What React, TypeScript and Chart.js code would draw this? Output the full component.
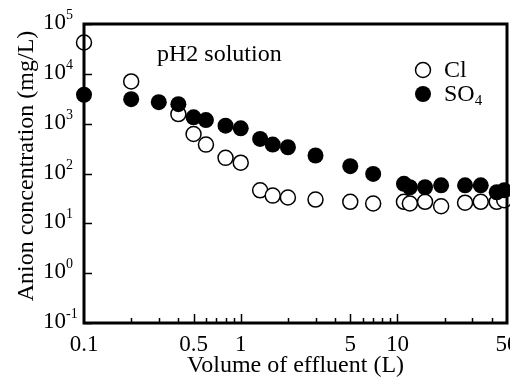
import React, { useEffect, useRef } from 'react';
import { Chart, registerables } from 'chart.js';

Chart.register(...registerables);

// Volume of effluent (L) and anion concentrations (mg/L)
const clVolume = [0.1, 0.2, 0.4, 0.5, 0.6, 0.8, 1.0, 1.33, 1.6, 2.0, 3.0, 5.0, 7.0, 11, 12, 15, 19, 27, 34, 43, 48];
const clConc = [42600, 7050, 1560, 620, 380, 206, 165, 46, 36, 33, 30, 27, 25, 27, 25, 27, 22, 26, 27, 27, 29];
const so4Volume = [0.1, 0.2, 0.3, 0.4, 0.5, 0.6, 0.8, 1.0, 1.33, 1.6, 2.0, 3.0, 5.0, 7.0, 11, 12, 15, 19, 27, 34, 43, 48];
const so4Conc = [3800, 3100, 2700, 2460, 1340, 1180, 910, 805, 495, 380, 336, 230, 140, 98, 62, 53, 53, 58, 58, 58, 42, 46];

const xTickValues = [0.1, 0.5, 1, 5, 10, 50];
const xMajorMarks = [0.5, 1, 5, 10];
const xMinorMarks = [0.2, 0.3, 0.4, 0.6, 0.7, 0.8, 0.9, 2, 3, 4, 6, 7, 8, 9, 20, 30, 40];
const yExponents = [-1, 0, 1, 2, 3, 4, 5];

const xTitle = 'Volume of effluent (L)';
const yTitle = 'Anion concentration (mg/L)';
const note = 'pH2 solution';

const SERIF = "'Liberation Serif', 'Times New Roman', serif";

const framePlugin = {
  id: 'frameAndText',
  afterDraw(chart: any) {
    const { ctx, chartArea } = chart;
    const { left, right, top, bottom } = chartArea;
    const xs = chart.scales.x;
    const ys = chart.scales.y;
    ctx.save();
    ctx.strokeStyle = '#000';
    ctx.fillStyle = '#000';
    // frame
    ctx.lineWidth = 3;
    ctx.strokeRect(left, top, right - left, bottom - top);
    // x ticks (inward)
    ctx.lineWidth = 1.5;
    ctx.beginPath();
    xMajorMarks.forEach((v) => {
      const px = Math.round(xs.getPixelForValue(v)) + 0.5;
      ctx.moveTo(px, bottom);
      ctx.lineTo(px, bottom - 9);
    });
    xMinorMarks.forEach((v) => {
      const px = Math.round(xs.getPixelForValue(v)) + 0.5;
      ctx.moveTo(px, bottom);
      ctx.lineTo(px, bottom - 5);
    });
    // y ticks
    yExponents.forEach((e) => {
      const py = Math.round(ys.getPixelForValue(Math.pow(10, e))) + 0.5;
      ctx.moveTo(left, py);
      ctx.lineTo(left + 8, py);
    });
    ctx.stroke();

    // y tick labels 10^n
    ctx.textBaseline = 'alphabetic';
    ctx.textAlign = 'left';
    yExponents.forEach((e) => {
      const py = ys.getPixelForValue(Math.pow(10, e));
      ctx.font = `23px ${SERIF}`;
      const base = '10';
      ctx.fillText(base, 35, py + 5);
      const w = ctx.measureText(base).width;
      ctx.font = `14px ${SERIF}`;
      ctx.fillText(e < 0 ? '-' + Math.abs(e) : String(e), 35 + w, py - 5);
    });

    // axis titles
    ctx.font = `24px ${SERIF}`;
    ctx.textAlign = 'center';
    ctx.textBaseline = 'middle';
    ctx.fillText(xTitle, (left + right) / 2, 358);
    ctx.save();
    ctx.translate(19, 158);
    ctx.rotate(-Math.PI / 2);
    ctx.fillText(yTitle, 0, 0);
    ctx.restore();

    // annotation
    ctx.textAlign = 'left';
    ctx.fillText(note, 149, 47);

    // legend
    ctx.lineWidth = 1.5;
    ctx.beginPath();
    ctx.arc(415, 62, 7.5, 0, Math.PI * 2);
    ctx.fillStyle = '#fff';
    ctx.fill();
    ctx.stroke();
    ctx.fillStyle = '#000';
    ctx.beginPath();
    ctx.arc(415, 86, 8, 0, Math.PI * 2);
    ctx.fill();
    ctx.font = `24px ${SERIF}`;
    ctx.textBaseline = 'middle';
    ctx.fillText('Cl', 436, 63);
    ctx.fillText('SO', 436, 87);
    const so = ctx.measureText('SO').width;
    ctx.font = `15px ${SERIF}`;
    ctx.fillText('4', 436 + so, 93);
    ctx.restore();
  },
};

export default function App() {
  const canvasRef = useRef<HTMLCanvasElement>(null);

  useEffect(() => {
    document.documentElement.style.overflow = 'hidden';
    document.body.style.overflow = 'hidden';
    if (!canvasRef.current) return;
    const chart = new Chart(canvasRef.current, {
      type: 'scatter',
      data: {
        datasets: [
          {
            label: 'SO4',
            data: so4Volume.map((x, i) => ({ x, y: so4Conc[i] })),
            pointRadius: 8,
            pointBackgroundColor: '#000',
            pointBorderColor: '#000',
            pointBorderWidth: 0,
            showLine: false,
            clip: false,
            order: 0,
          },
          {
            label: 'Cl',
            data: clVolume.map((x, i) => ({ x, y: clConc[i] })),
            pointRadius: 7.5,
            pointBackgroundColor: '#fff',
            pointBorderColor: '#000',
            pointBorderWidth: 1.5,
            showLine: false,
            clip: false,
            order: 1,
          },
        ],
      },
      options: {
        animation: false,
        responsive: false,
        maintainAspectRatio: false,
        layout: { padding: { top: 16, right: 11, left: 0, bottom: 0 } },
        plugins: { legend: { display: false }, tooltip: { enabled: false } },
        scales: {
          x: {
            type: 'logarithmic',
            min: 0.1,
            max: 50,
            grid: { display: false, drawTicks: false },
            border: { display: false },
            afterBuildTicks: (s: any) => {
              s.ticks = xTickValues.map((v) => ({ value: v }));
            },
            afterFit: (s: any) => {
              s.height = 56;
              s.paddingLeft = 0;
              s.paddingRight = 0;
            },
            ticks: {
              autoSkip: false,
              maxRotation: 0,
              color: '#000',
              padding: 8,
              font: { family: SERIF, size: 23 },
              callback: (v: any) => String(v),
            },
          },
          y: {
            type: 'logarithmic',
            min: 0.1,
            max: 100000,
            grid: { display: false, drawTicks: false },
            border: { display: false },
            ticks: { display: false },
            afterFit: (s: any) => {
              s.width = 76;
              s.paddingTop = 0;
              s.paddingBottom = 0;
            },
          },
        },
      },
      plugins: [framePlugin],
    });
    return () => chart.destroy();
  }, []);

  return (
    <div style={{ width: 510, height: 371 }}>
      <canvas ref={canvasRef} width={510} height={371} style={{ display: 'block' }} />
    </div>
  );
}
